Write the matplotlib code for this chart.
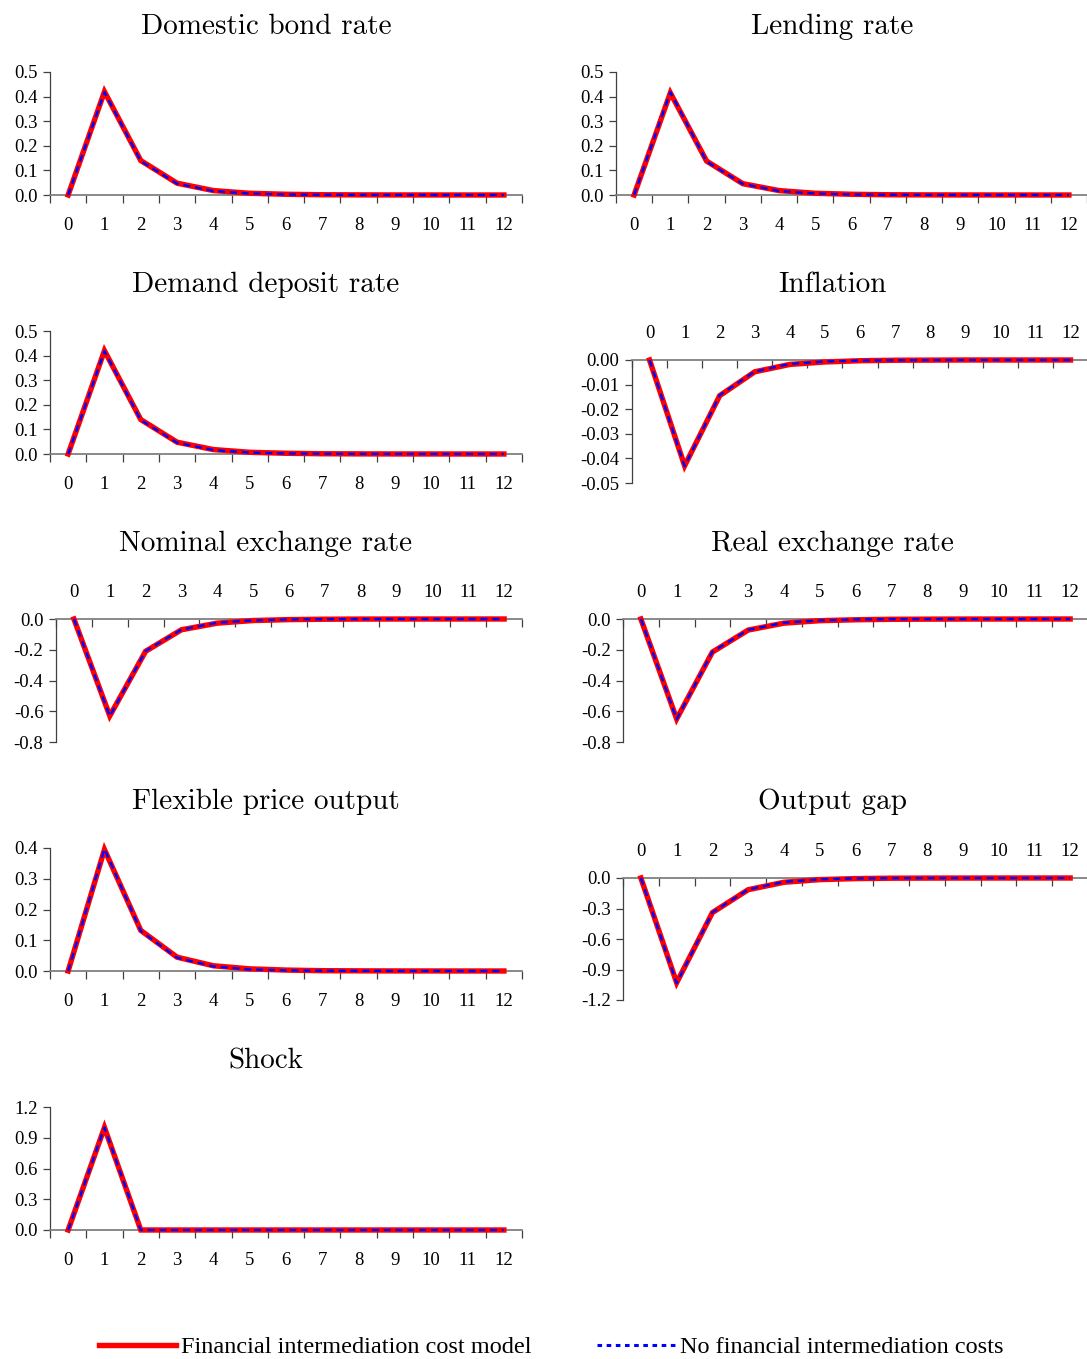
import matplotlib
matplotlib.use("Agg")
import matplotlib.pyplot as plt
import numpy as np

W, H = 1087, 1359

periods = list(range(13))
period_labels = [str(p) for p in periods]

# ---- data ----
bond_fic = [0, 0.420, 0.140, 0.048, 0.018, 0.007, 0.003, 0.001, 0.0005, 0.0002, 0.0001, 0.0, 0.0]
bond_nofic = [0, 0.418, 0.138, 0.046, 0.016, 0.006, 0.002, 0.001, 0.0004, 0.0002, 0.0001, 0.0, 0.0]
lend_fic = [0, 0.415, 0.138, 0.046, 0.018, 0.007, 0.003, 0.001, 0.0005, 0.0002, 0.0001, 0.0, 0.0]
lend_nofic = [0, 0.418, 0.136, 0.045, 0.016, 0.006, 0.002, 0.001, 0.0004, 0.0002, 0.0001, 0.0, 0.0]
dep_fic = [0, 0.420, 0.140, 0.048, 0.018, 0.007, 0.003, 0.001, 0.0005, 0.0002, 0.0001, 0.0, 0.0]
dep_nofic = [0, 0.418, 0.138, 0.046, 0.016, 0.006, 0.002, 0.001, 0.0004, 0.0002, 0.0001, 0.0, 0.0]
infl_fic = [0, -0.0430, -0.0145, -0.0048, -0.0018, -0.0008, -0.0003, -0.0001, -0.00005, 0.0, 0.0, 0.0, 0.0]
infl_nofic = [0, -0.0432, -0.0143, -0.0047, -0.0016, -0.0006, -0.0002, -0.0001, -0.00005, 0.0, 0.0, 0.0, 0.0]
nom_fic = [0, -0.630, -0.210, -0.070, -0.027, -0.010, -0.004, -0.0015, -0.0005, -0.0002, -0.0001, 0.0, 0.0]
nom_nofic = [0, -0.632, -0.208, -0.069, -0.024, -0.009, -0.003, -0.001, -0.0004, -0.0002, -0.0001, 0.0, 0.0]
real_fic = [0, -0.650, -0.215, -0.072, -0.027, -0.011, -0.005, -0.002, -0.001, -0.0004, -0.0002, -0.0001, 0.0]
real_nofic = [0, -0.652, -0.213, -0.071, -0.024, -0.009, -0.003, -0.001, -0.0005, -0.0002, -0.0001, 0.0, 0.0]
flex_fic = [0, 0.395, 0.132, 0.045, 0.017, 0.007, 0.003, 0.001, 0.0005, 0.0002, 0.0001, 0.0, 0.0]
flex_nofic = [0, 0.397, 0.130, 0.043, 0.015, 0.005, 0.002, 0.001, 0.0004, 0.0002, 0.0001, 0.0, 0.0]
gap_fic = [0, -1.030, -0.340, -0.115, -0.042, -0.016, -0.006, -0.002, -0.001, -0.0004, -0.0002, -0.0001, 0.0]
gap_nofic = [0, -1.035, -0.338, -0.113, -0.038, -0.013, -0.004, -0.0015, -0.0005, -0.0002, -0.0001, 0.0, 0.0]
shock_fic = [0, 1.0, 0.0, 0.0, 0.0, 0.0, 0.0, 0.0, 0.0, 0.0, 0.0, 0.0, 0.0]
shock_nofic = [0, 1.0, 0.0, 0.0, 0.0, 0.0, 0.0, 0.0, 0.0, 0.0, 0.0, 0.0, 0.0]

titles = ["Domestic bond rate", "Lending rate", "Demand deposit rate", "Inflation",
          "Nominal exchange rate", "Real exchange rate", "Flexible price output",
          "Output gap", "Shock"]

yt_rates = [0.0, 0.1, 0.2, 0.3, 0.4, 0.5]
yl_rates = ["0.0", "0.1", "0.2", "0.3", "0.4", "0.5"]
yt_infl = [0.0, -0.01, -0.02, -0.03, -0.04, -0.05]
yl_infl = ["0.00", "-0.01", "-0.02", "-0.03", "-0.04", "-0.05"]
yt_fx = [0.0, -0.2, -0.4, -0.6, -0.8]
yl_fx = ["0.0", "-0.2", "-0.4", "-0.6", "-0.8"]
yt_flex = [0.0, 0.1, 0.2, 0.3, 0.4]
yl_flex = ["0.0", "0.1", "0.2", "0.3", "0.4"]
yt_gap = [0.0, -0.3, -0.6, -0.9, -1.2]
yl_gap = ["0.0", "-0.3", "-0.6", "-0.9", "-1.2"]
yt_shock = [0.0, 0.3, 0.6, 0.9, 1.2]
yl_shock = ["0.0", "0.3", "0.6", "0.9", "1.2"]

legend_labels = ["Financial intermediation cost model", "No financial intermediation costs"]

series_fic = [bond_fic, lend_fic, dep_fic, infl_fic, nom_fic, real_fic, flex_fic, gap_fic, shock_fic]
series_nofic = [bond_nofic, lend_nofic, dep_nofic, infl_nofic, nom_nofic, real_nofic, flex_nofic, gap_nofic, shock_nofic]
yticks = [yt_rates, yt_rates, yt_rates, yt_infl, yt_fx, yt_fx, yt_flex, yt_gap, yt_shock]
ylabels = [yl_rates, yl_rates, yl_rates, yl_infl, yl_fx, yl_fx, yl_flex, yl_gap, yl_shock]

# layout in pixels: (left, right, top, bottom), title center x, title y
boxes = [
    (50, 522, 72, 195), (616, 1087, 72, 195),
    (50, 522, 331, 454), (632, 1088, 360, 483),
    (56, 522, 619, 742), (623, 1088, 619, 742),
    (50, 522, 848, 971), (623, 1088, 878, 1000),
    (50, 522, 1107, 1230),
]
title_pos = [(266, 27), (832, 27), (266, 285), (832, 285), (266, 544), (832, 544),
             (266, 802), (832, 802), (266, 1061)]

fig = plt.figure(figsize=(W / 100, H / 100), dpi=100)
tick_font = dict(family="Liberation Serif", size=13.5)
handles = []
for i in range(9):
    l, r, t, b = boxes[i]
    ax = fig.add_axes([l / W, 1 - b / H, (r - l) / W, (b - t) / H])
    yt = yticks[i]
    negative = min(yt) < 0
    ax.set_xlim(-0.5, 12.5)
    ax.set_ylim(min(yt), max(yt))
    h1, = ax.plot(periods, series_fic[i], color="#ff0000", lw=3.9, zorder=3, clip_on=False,
                  solid_joinstyle="miter")
    h2, = ax.plot(periods, series_nofic[i], color="#0000ff", lw=1.7, ls=(0, (3, 2)), zorder=4,
                  clip_on=False)
    if i == 0:
        handles = [h1, h2]
    ax.spines["right"].set_visible(False)
    ax.spines["left"].set_color("#404040")
    ax.spines["left"].set_linewidth(0.9)
    ax.set_yticks(yt)
    ax.set_yticklabels(ylabels[i], fontdict=tick_font)
    ax.tick_params(axis="y", direction="out", length=5, width=0.9, color="#404040", pad=4)
    ax.set_xticks(np.arange(-0.5, 13.0, 1.0))
    ax.set_xticklabels([])
    ax.set_xticks(periods, minor=True)
    ax.set_xticklabels(period_labels, minor=True, fontdict=tick_font)
    if negative:
        ax.spines["bottom"].set_visible(False)
        ax.spines["top"].set_color("#808080")
        ax.spines["top"].set_linewidth(1.3)
        ax.xaxis.set_ticks_position("top")
        ax.tick_params(axis="x", which="major", direction="in", length=6, width=0.9, color="#404040")
        ax.tick_params(axis="x", which="minor", length=0, pad=13)
    else:
        ax.spines["top"].set_visible(False)
        ax.spines["bottom"].set_color("#808080")
        ax.spines["bottom"].set_linewidth(1.3)
        ax.tick_params(axis="x", which="major", direction="out", length=6, width=0.9, color="#404040")
        ax.tick_params(axis="x", which="minor", length=0, pad=16)
    ax.patch.set_alpha(0)
    tx, ty = title_pos[i]
    fig.text(tx / W, 1 - ty / H, titles[i], family="cmr10", size=21, ha="center", va="center")

leg = fig.legend(handles, legend_labels, ncol=2, loc="center", bbox_to_anchor=(551 / W, 1 - 1347 / H),
                 frameon=False, prop=dict(family="Liberation Serif", size=17.5), handlelength=3.2,
                 handletextpad=0.2, columnspacing=2.7, borderpad=0)
leg.get_lines()[1].set_linestyle((0, (1.5, 1.5)))
leg.get_lines()[1].set_linewidth(2.2)

fig.savefig("out.png", dpi=100)
